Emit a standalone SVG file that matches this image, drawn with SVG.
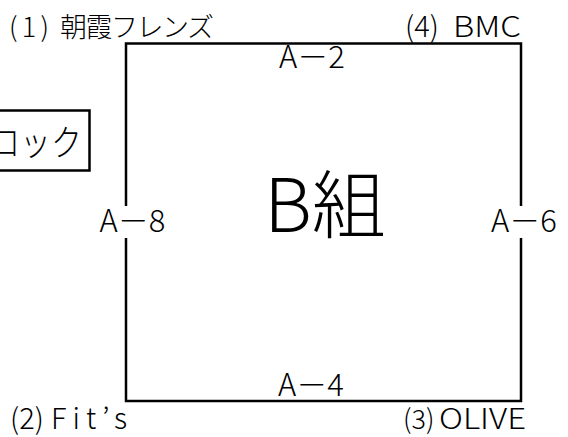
<svg xmlns="http://www.w3.org/2000/svg" width="568" height="437" viewBox="0 0 568 437">
<style>
text{font-family:"Noto Sans CJK JP","Noto Sans",sans-serif;font-weight:300;fill:#000}
.lbl{font-size:27px}
.lat{font-size:29px}
.side{font-size:31px;text-anchor:middle}
.frame{fill:none;stroke:#000;stroke-width:2.5}
.bg{fill:#fff;stroke:none}
</style>
<rect width="568" height="437" fill="#fff"/>
<g id="block">
<rect class="frame" x="-5" y="110.5" width="94.5" height="60"/>
<text x="-11" y="156" font-size="36" textLength="93" lengthAdjust="spacingAndGlyphs">ロック</text>
</g>
<g id="court">
<rect class="frame" x="126" y="43.5" width="395" height="357.5"/>
<text x="325" y="232" font-size="74" text-anchor="middle">B組</text>
</g>
<g id="connectors">
<text class="side" x="312" y="68">A－2</text>
<text class="side" x="311" y="396">A－4</text>
<g id="a8">
<rect class="bg" x="110" y="206" width="30" height="32"/>
<text class="side" x="132.5" y="232">A－8</text>
</g>
<g id="a6">
<rect class="bg" x="505" y="206" width="30" height="32"/>
<text class="side" x="524" y="232">A－6</text>
</g>
</g>
<g id="team1"><text class="lbl" y="37"><tspan x="9" textLength="40">(1)</tspan><tspan x="60" textLength="154">朝霞フレンズ</tspan></text></g>
<g id="team4"><text class="lat" y="37"><tspan x="405">(4)</tspan><tspan x="453" textLength="68" lengthAdjust="spacingAndGlyphs">BMC</tspan></text></g>
<g id="team2"><text class="lat" y="429"><tspan x="10">(2)</tspan><tspan x="51" textLength="76">Fit’s</tspan></text></g>
<g id="team3"><text class="lat" y="429"><tspan x="403" font-size="27">(3)</tspan><tspan x="439" textLength="87" lengthAdjust="spacingAndGlyphs">OLIVE</tspan></text></g>
</svg>
